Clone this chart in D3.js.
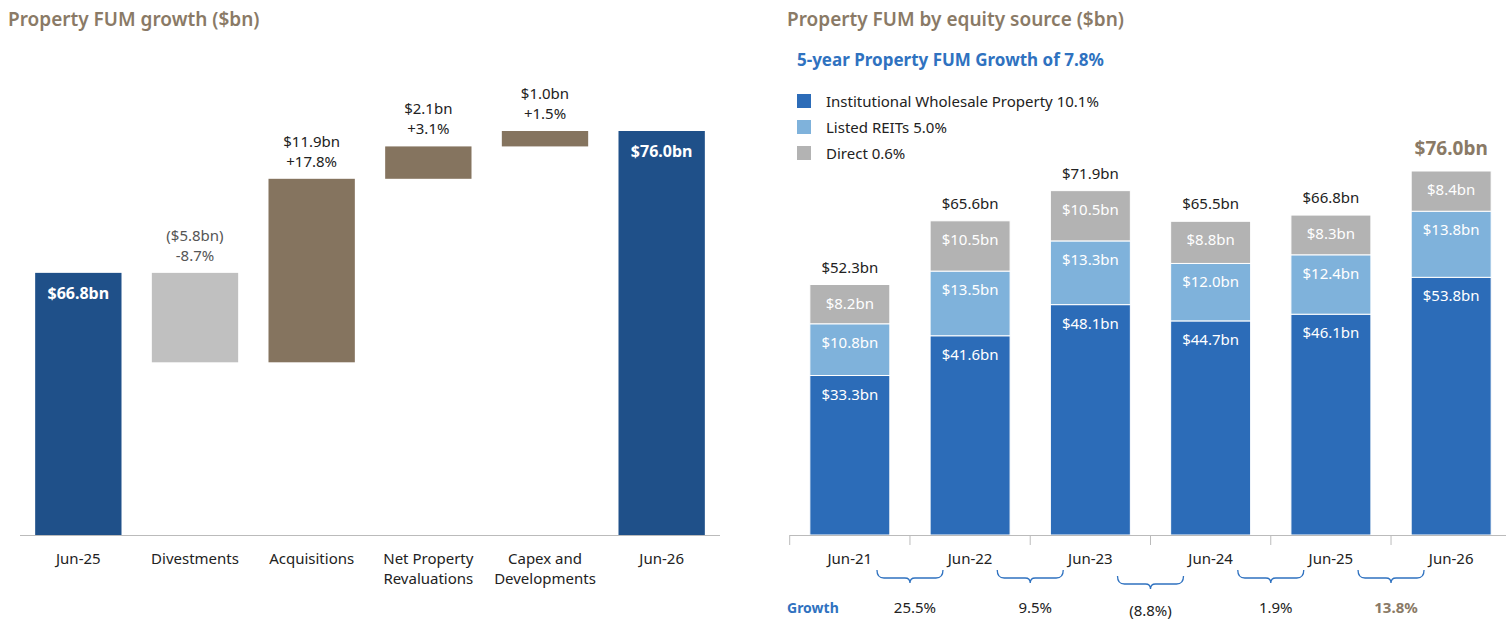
<!DOCTYPE html>
<html><head><meta charset="utf-8">
<script src="https://cdn.jsdelivr.net/npm/d3@7"></script>
<style>body{margin:0;background:#fff;font-family:"Noto Sans",sans-serif}</style>
</head><body><svg id="c" width="1506" height="642"></svg>
<script>
// left: waterfall
const wfCats = [["Jun-25"], ["Divestments"], ["Acquisitions"], ["Net Property", "Revaluations"], ["Capex and", "Developments"], ["Jun-26"]];
const wfDelta = [66.8, -5.8, 11.9, 2.1, 1.0, 76.0];
const wfKind = ["total", "neg", "pos", "pos", "pos", "total"];
const wfLabels = [["$66.8bn"], ["($5.8bn)", "-8.7%"], ["$11.9bn", "+17.8%"], ["$2.1bn", "+3.1%"], ["$1.0bn", "+1.5%"], ["$76.0bn"]];

// right: stacked bars
const years = ["Jun-21", "Jun-22", "Jun-23", "Jun-24", "Jun-25", "Jun-26"];
const inst = [33.3, 41.6, 48.1, 44.7, 46.1, 53.8];
const listed = [10.8, 13.5, 13.3, 12.0, 12.4, 13.8];
const direct = [8.2, 10.5, 10.5, 8.8, 8.3, 8.4];
const totals = [52.3, 65.6, 71.9, 65.5, 66.8, 76.0];
const growth = ["25.5%", "9.5%", "(8.8%)", "1.9%", "13.8%"];
const legendNames = ["Institutional Wholesale Property 10.1%", "Listed REITs 5.0%", "Direct 0.6%"];

const brown = "#8a7a66", blue = "#2f72c0";
const svg = d3.select("#c");

// ---------- left chart
svg.append("text").attr("x", 8).attr("y", 26).attr("fill", brown)
  .attr("font-size", 19).attr("font-weight", 600).text("Property FUM growth ($bn)");

const xL = d3.scaleBand().domain(d3.range(wfCats.length)).range([20, 720]).paddingInner(0.26).paddingOuter(0.13);
const yL = d3.scaleLinear().domain([49.8, 76]).range([535, 131]);

let run = 0;
const steps = wfDelta.map((d, i) => {
  let lo, hi;
  if (wfKind[i] === "total") { lo = yL.domain()[0]; hi = d; run = d; }
  else { const n = run + d; lo = Math.min(run, n); hi = Math.max(run, n); run = n; }
  return { i, lo, hi };
});
const fillL = { total: "#1f5089", neg: "#c0c0c0", pos: "#85745f" };
svg.append("g").selectAll("rect").data(steps).join("rect")
  .attr("x", d => xL(d.i)).attr("width", xL.bandwidth())
  .attr("y", d => yL(d.hi)).attr("height", d => yL(d.lo) - yL(d.hi))
  .attr("fill", d => fillL[wfKind[d.i]]);

svg.append("line").attr("x1", 20).attr("x2", 720).attr("y1", 535.5).attr("y2", 535.5).attr("stroke", "#bbb");

steps.forEach(d => {
  const cx = xL(d.i) + xL.bandwidth() / 2;
  if (wfKind[d.i] === "total") {
    svg.append("text").attr("x", cx).attr("y", yL(d.hi) + 26).attr("text-anchor", "middle")
      .attr("fill", "#fff").attr("font-weight", 700).attr("font-size", 16).text(wfLabels[d.i][0]);
  } else {
    const lines = wfLabels[d.i];
    lines.forEach((t, k) => svg.append("text").attr("x", cx)
      .attr("y", yL(d.hi) - 12 - (lines.length - 1 - k) * 20).attr("text-anchor", "middle")
      .attr("fill", wfKind[d.i] === "neg" ? "#555" : "#222").attr("font-size", 15).text(t));
  }
  wfCats[d.i].forEach((t, k) => svg.append("text").attr("x", cx).attr("y", 564 + k * 20)
    .attr("text-anchor", "middle").attr("fill", "#222").attr("font-size", 15).text(t));
});

// ---------- right chart
svg.append("text").attr("x", 787).attr("y", 26).attr("fill", brown)
  .attr("font-size", 19).attr("font-weight", 600).text("Property FUM by equity source ($bn)");
svg.append("text").attr("x", 797).attr("y", 66).attr("fill", blue)
  .attr("font-size", 17).attr("font-weight", 700).text("5-year Property FUM Growth of 7.8%");

const colors = ["#2c6cb8", "#7fb2db", "#b3b3b3"];
legendNames.forEach((n, i) => {
  svg.append("rect").attr("x", 797).attr("y", 94 + i * 26).attr("width", 14).attr("height", 14).attr("fill", colors[i]);
  svg.append("text").attr("x", 826).attr("y", 107 + i * 26).attr("fill", "#222").attr("font-size", 15).text(n);
});

const xR = d3.scaleBand().domain(years).range([790, 1511]).paddingInner(0.335).paddingOuter(0.165);
const yR = d3.scaleLinear().domain([0, 76]).range([535, 171]);
const rows = years.map((y, i) => ({ year: y, inst: inst[i], listed: listed[i], direct: direct[i] }));
const series = d3.stack().keys(["inst", "listed", "direct"])(rows);

series.forEach((s, si) => {
  const g = svg.append("g");
  g.selectAll("rect").data(s).join("rect")
    .attr("x", d => xR(d.data.year)).attr("width", xR.bandwidth())
    .attr("y", d => yR(d[1])).attr("height", d => yR(d[0]) - yR(d[1]))
    .attr("fill", colors[si]).attr("stroke", "#fff").attr("stroke-width", 1);
  g.selectAll("text").data(s).join("text")
    .attr("x", d => xR(d.data.year) + xR.bandwidth() / 2)
    .attr("y", d => yR(d[1]) + 24).attr("text-anchor", "middle")
    .attr("fill", "#fff").attr("font-size", 15)
    .text(d => "$" + d.data[s.key].toFixed(1) + "bn");
});

svg.append("g").selectAll("text").data(years).join("text")
  .attr("x", d => xR(d) + xR.bandwidth() / 2)
  .attr("y", (d, i) => yR(totals[i]) - (i === 5 ? 16 : 12)).attr("text-anchor", "middle")
  .attr("fill", (d, i) => i === 5 ? brown : "#222")
  .attr("font-size", (d, i) => i === 5 ? 19 : 15).attr("font-weight", (d, i) => i === 5 ? 700 : 400)
  .text((d, i) => "$" + totals[i].toFixed(1) + "bn");

// axis with ticks at category boundaries
const step = xR.step();
svg.append("line").attr("x1", 790).attr("x2", 1506).attr("y1", 535.5).attr("y2", 535.5).attr("stroke", "#bbb");
years.forEach((y, i) => {
  const bx = xR(y) - (step - xR.bandwidth()) / 2;
  svg.append("line").attr("x1", bx).attr("x2", bx).attr("y1", 535).attr("y2", 545).attr("stroke", "#bbb");
  svg.append("text").attr("x", xR(y) + xR.bandwidth() / 2).attr("y", 564).attr("text-anchor", "middle")
    .attr("fill", "#222").attr("font-size", 15).text(y);
});

// growth braces
svg.append("text").attr("x", 787).attr("y", 613).attr("fill", blue)
  .attr("font-size", 14).attr("font-weight", 700).text("Growth");
growth.forEach((g, i) => {
  const mid = xR(years[i]) + xR.bandwidth() + (step - xR.bandwidth()) / 2;
  const y0 = i === 2 ? 576 : 570, x0 = mid - 33, x1 = mid + 33;
  svg.append("path").attr("fill", "none").attr("stroke", blue).attr("stroke-width", 1.3)
    .attr("d", `M${x0},${y0} Q${x0},${y0 + 8} ${x0 + 7},${y0 + 8} H${mid - 5} Q${mid},${y0 + 8} ${mid},${y0 + 13} Q${mid},${y0 + 8} ${mid + 5},${y0 + 8} H${x1 - 7} Q${x1},${y0 + 8} ${x1},${y0}`);
  svg.append("text").attr("x", mid + (i === 2 ? 0 : 5)).attr("y", i === 2 ? 616 : 613).attr("text-anchor", "middle")
    .attr("fill", i === 4 ? brown : "#222").attr("font-weight", i === 4 ? 700 : 400)
    .attr("font-size", 15).text(g);
});
</script></body></html>
